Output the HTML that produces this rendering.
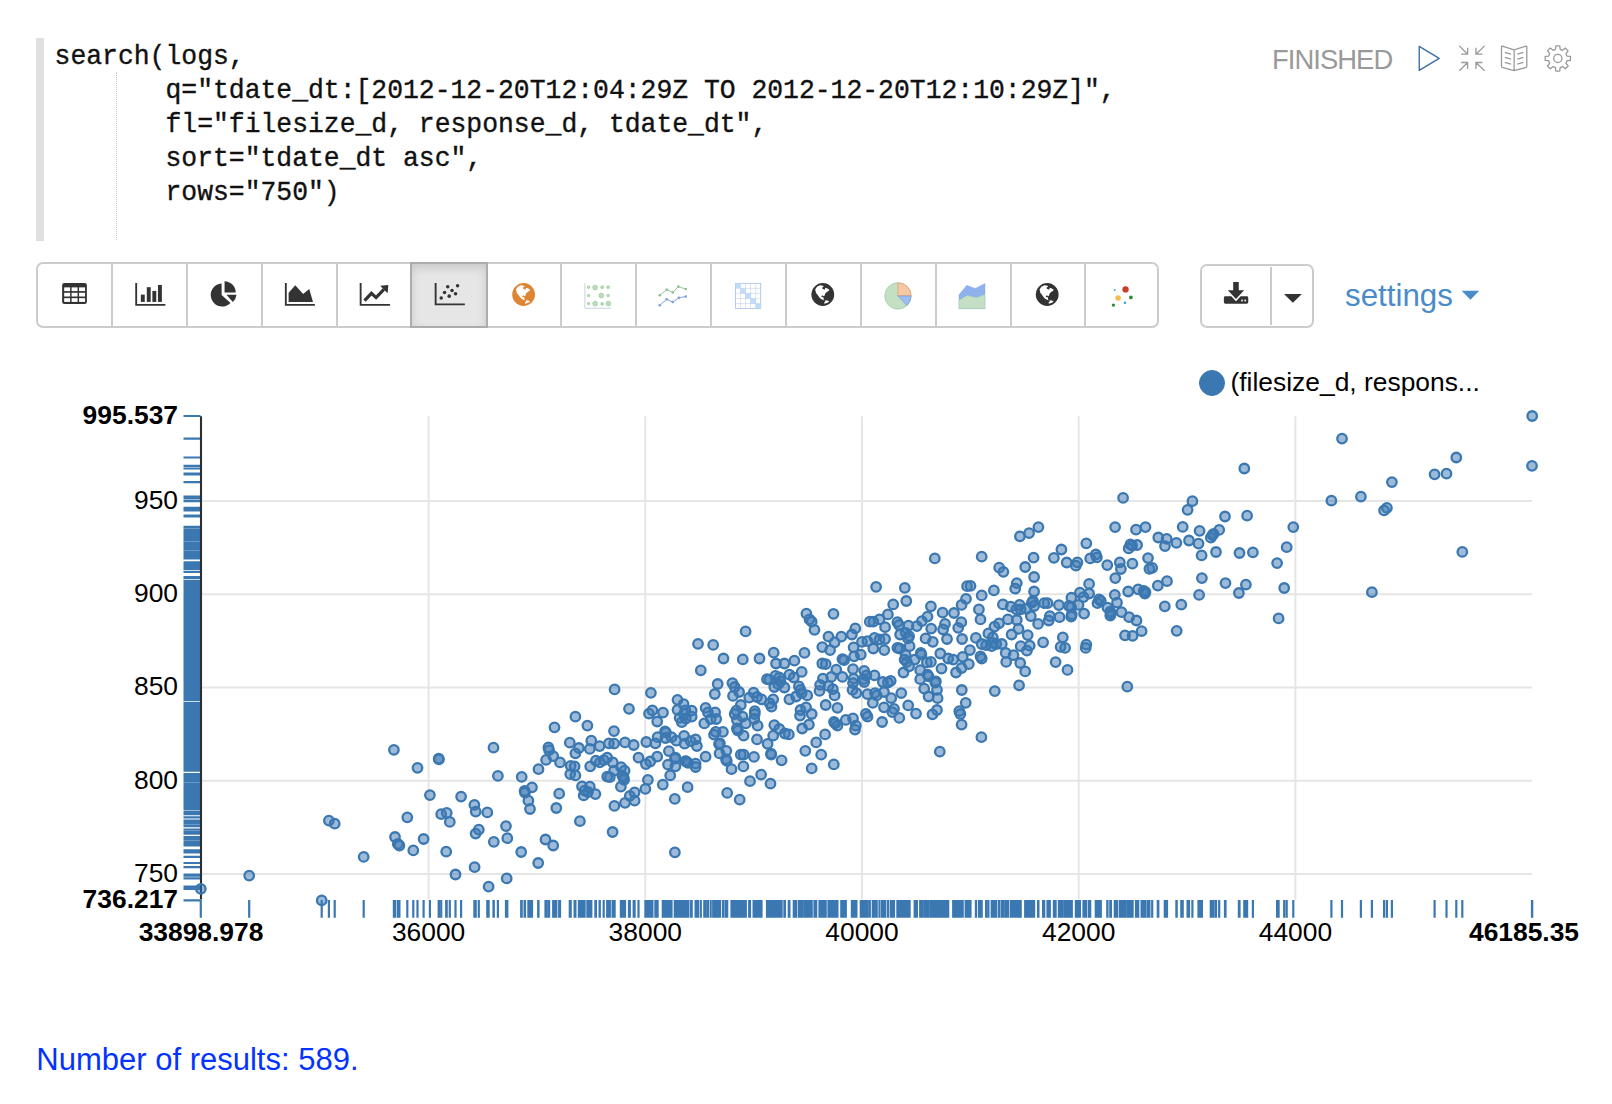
<!DOCTYPE html>
<html><head><meta charset="utf-8">
<style>
html,body{margin:0;padding:0;background:#fff;}
body{width:1612px;height:1104px;position:relative;overflow:hidden;font-family:"Liberation Sans",sans-serif;}
.abs{position:absolute;}
#gut{left:36px;top:38.4px;width:7.6px;height:203px;background:#e0e0e0;}
#indent{left:116.4px;top:72px;width:0;height:168px;border-left:1px dotted #c8c8c8;}
#code{left:54.6px;top:39.6px;margin:0;font-family:"Liberation Mono",monospace;font-size:26.4px;line-height:32.08px;color:#111;white-space:pre;transform:scaleY(1.06);transform-origin:0 0;-webkit-text-stroke:0.35px #111;}
#fin{left:1272px;top:45px;font-size:27.4px;line-height:30px;color:#999;letter-spacing:-0.95px;}
#tb{left:36.2px;top:262px;width:1123.2px;height:65.8px;box-sizing:border-box;border:2px solid #ccc;border-radius:7px;background:#fff;}
.sep{position:absolute;top:264px;width:2px;height:62px;background:#ccc;}
#act{left:410px;top:262px;width:77.5px;height:65.8px;box-sizing:border-box;background:#e6e6e6;border:2px solid #adadad;box-shadow:inset 0 4px 8px rgba(0,0,0,.13);}
#dl{left:1199.9px;top:263.7px;width:114.2px;height:64.4px;box-sizing:border-box;border:2px solid #ccc;border-radius:7px;background:#fff;}
#set{left:1345px;top:279px;font-size:31.3px;line-height:34px;color:#4a8bc9;}
#res{left:36.3px;top:1042.6px;font-size:31px;line-height:34px;color:#0433ff;}
svg text{font-family:"Liberation Sans",sans-serif;}
</style></head><body>
<div class="abs" id="gut"></div>
<div class="abs" id="indent"></div>
<pre class="abs" id="code">search(logs,
       q="tdate_dt:[2012-12-20T12:04:29Z TO 2012-12-20T12:10:29Z]",
       fl="filesize_d, response_d, tdate_dt",
       sort="tdate_dt asc",
       rows="750")</pre>
<div class="abs" id="fin">FINISHED</div>
<div class="abs" id="tb"></div>
<div class="abs" id="act"></div>
<div class="abs" id="dl"></div>
<div class="abs" id="set">settings</div>
<div class="abs" id="res">Number of results: 589.</div>

<div class="sep" style="left:111.0px"></div>
<div class="sep" style="left:185.9px"></div>
<div class="sep" style="left:260.7px"></div>
<div class="sep" style="left:335.6px"></div>
<div class="sep" style="left:560.3px"></div>
<div class="sep" style="left:635.1px"></div>
<div class="sep" style="left:710.0px"></div>
<div class="sep" style="left:784.9px"></div>
<div class="sep" style="left:859.8px"></div>
<div class="sep" style="left:934.7px"></div>
<div class="sep" style="left:1009.5px"></div>
<div class="sep" style="left:1084.4px"></div>
<div class="sep" style="left:1270px;top:266.6px;height:58.6px"></div>
<svg class="abs" style="left:0;top:0" width="1612" height="1104" viewBox="0 0 1612 1104">
<g transform="translate(37,263) scale(0.18610)"><rect x="135" y="108" width="133" height="112" rx="12" fill="#333"/><rect x="146" y="131" width="32" height="20" fill="#fff"/><rect x="186" y="131" width="32" height="20" fill="#fff"/><rect x="226" y="131" width="32" height="20" fill="#fff"/><rect x="146" y="160" width="32" height="20" fill="#fff"/><rect x="186" y="160" width="32" height="20" fill="#fff"/><rect x="226" y="160" width="32" height="20" fill="#fff"/><rect x="146" y="189" width="32" height="20" fill="#fff"/><rect x="186" y="189" width="32" height="20" fill="#fff"/><rect x="226" y="189" width="32" height="20" fill="#fff"/><path d="M533 108V225H690" stroke="#333" stroke-width="10" fill="none"/><rect x="558" y="170" width="21" height="39" fill="#333"/><rect x="590" y="130" width="21" height="79" fill="#333"/><rect x="620" y="150" width="21" height="59" fill="#333"/><rect x="650" y="118" width="21" height="91" fill="#333"/><path d="M992 110 A62 62 0 1 0 1040 215 L992 172 Z" fill="#333"/><path d="M1008 98 A62 62 0 0 1 1068 158 L1008 158 Z" fill="#333"/><path d="M1018 170 L1072 170 A62 62 0 0 1 1052 210 Z" fill="#333"/><path d="M1337 108V225H1493" stroke="#333" stroke-width="10" fill="none"/><path d="M1352 209V160L1388 120L1430 166L1463 140L1483 209Z" fill="#333"/></g>
<g transform="translate(337,263) scale(0.18610)"><path d="M127 108V225H285" stroke="#333" stroke-width="10" fill="none"/><path d="M148 202L185 163L210 186L252 142" stroke="#333" stroke-width="17" fill="none" stroke-linejoin="miter"/><path d="M232 122L276 118L272 162Z" fill="#333"/><path d="M530 108V222H687" stroke="#333" stroke-width="10" fill="none"/><circle cx="560" cy="188" r="9.5" fill="#333"/><circle cx="578" cy="158" r="9.5" fill="#333"/><circle cx="595" cy="128" r="9.5" fill="#333"/><circle cx="603" cy="178" r="9.5" fill="#333"/><circle cx="618" cy="148" r="9.5" fill="#333"/><circle cx="637" cy="165" r="9.5" fill="#333"/><circle cx="648" cy="122" r="9.5" fill="#333"/><path d="M1332 108V243H1472" stroke="#c3cfdc" stroke-width="5" fill="none"/><circle cx="1352" cy="130" r="7" fill="#bcdcbc" stroke="#8cc28c" stroke-width="3"/><circle cx="1387" cy="132" r="13" fill="#bcdcbc" stroke="#8cc28c" stroke-width="3"/><circle cx="1425" cy="130" r="8" fill="#bcdcbc" stroke="#8cc28c" stroke-width="3"/><circle cx="1457" cy="130" r="8" fill="#bcdcbc" stroke="#8cc28c" stroke-width="3"/><circle cx="1352" cy="175" r="7" fill="#bcdcbc" stroke="#8cc28c" stroke-width="3"/><circle cx="1420" cy="175" r="13" fill="#bcdcbc" stroke="#8cc28c" stroke-width="3"/><circle cx="1457" cy="175" r="7" fill="#bcdcbc" stroke="#8cc28c" stroke-width="3"/><circle cx="1352" cy="218" r="7" fill="#bcdcbc" stroke="#8cc28c" stroke-width="3"/><circle cx="1387" cy="218" r="13" fill="#bcdcbc" stroke="#8cc28c" stroke-width="3"/><circle cx="1425" cy="220" r="8" fill="#bcdcbc" stroke="#8cc28c" stroke-width="3"/><circle cx="1458" cy="218" r="13" fill="#bcdcbc" stroke="#8cc28c" stroke-width="3"/></g>
<g transform="translate(637,263) scale(0.18610)"><path d="M122 173 L160 143 L192 158 L222 127 L262 140" stroke="#8fc08f" stroke-width="5" fill="none"/><circle cx="122" cy="173" r="7" fill="#8fc08f"/><circle cx="160" cy="143" r="7" fill="#8fc08f"/><circle cx="192" cy="158" r="7" fill="#8fc08f"/><circle cx="222" cy="127" r="7" fill="#8fc08f"/><circle cx="262" cy="140" r="7" fill="#8fc08f"/><path d="M122 227 L160 195 L192 210 L225 187 L262 180" stroke="#7b9fdb" stroke-width="5" fill="none"/><circle cx="122" cy="227" r="7" fill="#7b9fdb"/><circle cx="160" cy="195" r="7" fill="#7b9fdb"/><circle cx="192" cy="210" r="7" fill="#7b9fdb"/><circle cx="225" cy="187" r="7" fill="#7b9fdb"/><circle cx="262" cy="180" r="7" fill="#7b9fdb"/><rect x="529" y="109" width="136" height="136" fill="#fff" stroke="#9db8e2" stroke-width="4"/><rect x="529.0" y="109.0" width="27.2" height="27.2" fill="#bcdcfa"/><rect x="556.2" y="136.2" width="27.2" height="27.2" fill="#bcdcfa"/><rect x="583.4" y="163.4" width="27.2" height="27.2" fill="#bcdcfa"/><rect x="610.6" y="190.6" width="27.2" height="27.2" fill="#bcdcfa"/><rect x="637.8" y="217.8" width="27.2" height="27.2" fill="#bcdcfa"/><path d="M556.2 109V245M529 136.2H665" stroke="#b4c9ea" stroke-width="2.5" fill="none"/><path d="M583.4 109V245M529 163.4H665" stroke="#b4c9ea" stroke-width="2.5" fill="none"/><path d="M610.6 109V245M529 190.6H665" stroke="#b4c9ea" stroke-width="2.5" fill="none"/><path d="M637.8 109V245M529 217.8H665" stroke="#b4c9ea" stroke-width="2.5" fill="none"/><circle cx="1402" cy="177" r="71" fill="#c4dfc4" stroke="#93c393" stroke-width="3"/><path d="M1402 177V106A71 71 0 0 1 1473 177Z" fill="#f6c9a4" stroke="#d98a55" stroke-width="3"/><path d="M1402 177H1473A71 71 0 0 1 1450 229Z" fill="#9dbdf0" stroke="#6f95d8" stroke-width="3"/></g>
<g transform="translate(937,263) scale(0.18610)"><path d="M118 245V170L160 120L205 137L258 110V245Z" fill="#8fb2ec" stroke="#7ea3e4" stroke-width="2"/><path d="M118 245V200L160 175L215 186L258 168V245Z" fill="#c4dfc4" stroke="#9bc99b" stroke-width="2"/><circle cx="1013" cy="142" r="17" fill="#c8402a"/><circle cx="973" cy="188" r="15" fill="#f2c04e"/><circle cx="1042" cy="185" r="10" fill="#2e8b3a"/><circle cx="948" cy="226" r="9" fill="#2e8b3a"/><circle cx="1010" cy="214" r="7" fill="#3aa8c8"/><circle cx="955" cy="145" r="5" fill="#3aa8c8"/></g>
<g transform="translate(523.6,294.5) scale(0.03738) translate(-635,-525)"><circle cx="635" cy="525" r="305" fill="#df8432"/><path d="M430 390 L480 320 L560 275 L640 290 L660 310 L615 345 L625 370 L690 395 L700 345 L760 365 L810 400 L790 430 L750 450 L700 500 L680 560 L660 570 L640 555 L600 560 L600 600 L640 590 L660 620 L650 655 L680 680 L640 670 L580 640 L540 600 L500 540 L450 480 L440 420Z" fill="#fff"/><path d="M700 680 L760 685 L810 710 L760 745 L680 775 L670 740 L700 710Z" fill="#fff"/></g>
<g transform="translate(822.8,294.5) scale(0.03738) translate(-635,-525)"><circle cx="635" cy="525" r="305" fill="#333"/><path d="M430 390 L480 320 L560 275 L640 290 L660 310 L615 345 L625 370 L690 395 L700 345 L760 365 L810 400 L790 430 L750 450 L700 500 L680 560 L660 570 L640 555 L600 560 L600 600 L640 590 L660 620 L650 655 L680 680 L640 670 L580 640 L540 600 L500 540 L450 480 L440 420Z" fill="#fff"/><path d="M700 680 L760 685 L810 710 L760 745 L680 775 L670 740 L700 710Z" fill="#fff"/></g>
<g transform="translate(1047.2,294.5) scale(0.03738) translate(-635,-525)"><circle cx="635" cy="525" r="305" fill="#333"/><path d="M430 390 L480 320 L560 275 L640 290 L660 310 L615 345 L625 370 L690 395 L700 345 L760 365 L810 400 L790 430 L750 450 L700 500 L680 560 L660 570 L640 555 L600 560 L600 600 L640 590 L660 620 L650 655 L680 680 L640 670 L580 640 L540 600 L500 540 L450 480 L440 420Z" fill="#fff"/><path d="M700 680 L760 685 L810 710 L760 745 L680 775 L670 740 L700 710Z" fill="#fff"/></g>
<g transform="translate(1190,255) scale(0.18610)"><rect x="232" y="145" width="30" height="50" fill="#333"/><path d="M203 190H291L247 236Z" fill="#333"/><path d="M190 222H222L247 248L272 222H305Q313 222 313 230V254Q313 262 305 262H190Q182 262 182 254V230Q182 222 190 222Z" fill="#333"/><rect x="275" y="240" width="9" height="9" fill="#fff"/><rect x="292" y="240" width="9" height="9" fill="#fff"/><path d="M505 210H601L553 256Z" fill="#333"/><path d="M1460 192H1554L1507 240Z" fill="#4a8bc9"/></g>
<g transform="translate(1400,30) scale(0.12407)"><path d="M155 132V326L316 229Z" stroke="#3a6ea5" stroke-width="11" fill="none" stroke-linejoin="round"/><path d="M478 128L545 195M493 195H545V143 M682 128L612 195M664 195H612V143 M478 328L545 262M493 262H545V314 M682 328L612 262M664 262H612V314" stroke="#9a9a9a" stroke-width="10.5" fill="none"/><path d="M920 160L824 130Q818 129 818 136V294Q818 300 824 302L920 328L1016 302Q1022 300 1022 294V136Q1022 129 1016 130ZM920 160V328 M845 180L895 195M845 220L895 235M845 260L895 275M945 195L995 180M945 235L995 220M945 275L995 260" stroke="#9a9a9a" stroke-width="10.5" fill="none" stroke-linejoin="round"/><path d="M1255.9 127.3 L1288.1 127.3 L1290.9 155.4 L1310.7 163.6 L1332.5 145.7 L1355.3 168.5 L1337.4 190.3 L1345.6 210.1 L1373.7 212.9 L1373.7 245.1 L1345.6 247.9 L1337.4 267.7 L1355.3 289.5 L1332.5 312.3 L1310.7 294.4 L1290.9 302.6 L1288.1 330.7 L1255.9 330.7 L1253.1 302.6 L1233.3 294.4 L1211.5 312.3 L1188.7 289.5 L1206.6 267.7 L1198.4 247.9 L1170.3 245.1 L1170.3 212.9 L1198.4 210.1 L1206.6 190.3 L1188.7 168.5 L1211.5 145.7 L1233.3 163.6 L1253.1 155.4Z" stroke="#9a9a9a" stroke-width="10.5" fill="none" stroke-linejoin="round"/><circle cx="1272" cy="229" r="33" stroke="#9a9a9a" stroke-width="10.5" fill="none"/></g>
<line x1="428.6" y1="416.2" x2="428.6" y2="899.6" stroke="#e5e5e5" stroke-width="2"/>
<line x1="645.3" y1="416.2" x2="645.3" y2="899.6" stroke="#e5e5e5" stroke-width="2"/>
<line x1="862.0" y1="416.2" x2="862.0" y2="899.6" stroke="#e5e5e5" stroke-width="2"/>
<line x1="1078.7" y1="416.2" x2="1078.7" y2="899.6" stroke="#e5e5e5" stroke-width="2"/>
<line x1="1295.4" y1="416.2" x2="1295.4" y2="899.6" stroke="#e5e5e5" stroke-width="2"/>
<line x1="201.0" y1="501.1" x2="1532.2" y2="501.1" stroke="#e5e5e5" stroke-width="2"/>
<line x1="201.0" y1="594.3" x2="1532.2" y2="594.3" stroke="#e5e5e5" stroke-width="2"/>
<line x1="201.0" y1="687.5" x2="1532.2" y2="687.5" stroke="#e5e5e5" stroke-width="2"/>
<line x1="201.0" y1="780.7" x2="1532.2" y2="780.7" stroke="#e5e5e5" stroke-width="2"/>
<line x1="201.0" y1="873.9" x2="1532.2" y2="873.9" stroke="#e5e5e5" stroke-width="2"/>
<path d="M328.9 900V917.7M183.5 820.6H200.5M334.7 900V917.7M183.5 823.7H200.5M363.7 900V917.7M183.5 856.9H200.5M393.9 900V917.7M183.5 749.8H200.5M395.0 900V917.7M183.5 837.0H200.5M397.8 900V917.7M183.5 843.9H200.5M399.4 900V917.7M183.5 845.5H200.5M407.3 900V917.7M183.5 817.3H200.5M413.3 900V917.7M183.5 850.4H200.5M417.5 900V917.7M183.5 767.8H200.5M423.6 900V917.7M183.5 839.0H200.5M429.9 900V917.7M183.5 795.1H200.5M438.7 900V917.7M183.5 758.6H200.5M438.9 900V917.7M183.5 759.4H200.5M441.2 900V917.7M183.5 814.2H200.5M446.7 900V917.7M183.5 812.9H200.5M449.8 900V917.7M183.5 821.9H200.5M446.2 900V917.7M183.5 851.7H200.5M455.5 900V917.7M183.5 874.5H200.5M461.1 900V917.7M183.5 796.6H200.5M474.4 900V917.7M183.5 804.8H200.5M475.7 900V917.7M183.5 811.6H200.5M478.8 900V917.7M183.5 829.7H200.5M475.6 900V917.7M183.5 833.6H200.5M474.6 900V917.7M183.5 867.2H200.5M487.3 900V917.7M183.5 812.4H200.5M488.6 900V917.7M183.5 886.6H200.5M493.5 900V917.7M183.5 747.7H200.5M497.9 900V917.7M183.5 775.9H200.5M493.8 900V917.7M183.5 841.8H200.5M506.0 900V917.7M183.5 826.1H200.5M507.3 900V917.7M183.5 838.2H200.5M506.7 900V917.7M183.5 878.4H200.5M521.7 900V917.7M183.5 776.9H200.5M521.2 900V917.7M183.5 852.0H200.5M524.6 900V917.7M183.5 790.9H200.5M525.0 900V917.7M183.5 792.5H200.5M532.0 900V917.7M183.5 787.3H200.5M528.4 900V917.7M183.5 800.7H200.5M530.0 900V917.7M183.5 809.0H200.5M538.5 900V917.7M183.5 769.2H200.5M538.2 900V917.7M183.5 863.0H200.5M545.5 900V917.7M183.5 839.5H200.5M553.2 900V917.7M183.5 845.5H200.5M546.1 900V917.7M183.5 759.9H200.5M548.4 900V917.7M183.5 747.4H200.5M549.1 900V917.7M183.5 750.2H200.5M553.2 900V917.7M183.5 756.2H200.5M554.5 900V917.7M183.5 727.3H200.5M556.3 900V917.7M183.5 808.0H200.5M559.2 900V917.7M183.5 793.7H200.5M560.0 900V917.7M183.5 762.4H200.5M321.7 900V917.7M183.5 900.3H200.5M575.4 900V917.7M183.5 716.7H200.5M587.4 900V917.7M183.5 725.6H200.5M614.0 900V917.7M183.5 731.1H200.5M657.2 900V917.7M183.5 721.5H200.5M569.8 900V917.7M183.5 742.7H200.5M591.3 900V917.7M183.5 740.7H200.5M578.9 900V917.7M183.5 748.0H200.5M575.4 900V917.7M183.5 753.3H200.5M589.8 900V917.7M183.5 748.9H200.5M599.6 900V917.7M183.5 746.1H200.5M608.9 900V917.7M183.5 743.3H200.5M614.1 900V917.7M183.5 743.7H200.5M625.0 900V917.7M183.5 742.4H200.5M633.7 900V917.7M183.5 745.0H200.5M646.3 900V917.7M183.5 742.0H200.5M655.4 900V917.7M183.5 743.3H200.5M657.6 900V917.7M183.5 737.2H200.5M665.0 900V917.7M183.5 731.5H200.5M665.4 900V917.7M183.5 738.0H200.5M671.5 900V917.7M183.5 737.2H200.5M676.3 900V917.7M183.5 740.7H200.5M684.1 900V917.7M183.5 735.9H200.5M684.6 900V917.7M183.5 743.7H200.5M690.7 900V917.7M183.5 741.1H200.5M570.7 900V917.7M183.5 765.9H200.5M574.6 900V917.7M183.5 766.3H200.5M570.2 900V917.7M183.5 774.1H200.5M575.4 900V917.7M183.5 775.4H200.5M590.2 900V917.7M183.5 766.3H200.5M595.9 900V917.7M183.5 760.7H200.5M599.8 900V917.7M183.5 762.4H200.5M603.7 900V917.7M183.5 760.2H200.5M607.2 900V917.7M183.5 757.6H200.5M612.8 900V917.7M183.5 762.4H200.5M614.1 900V917.7M183.5 770.7H200.5M607.2 900V917.7M183.5 776.7H200.5M609.8 900V917.7M183.5 777.2H200.5M621.1 900V917.7M183.5 767.2H200.5M624.6 900V917.7M183.5 770.7H200.5M622.4 900V917.7M183.5 775.9H200.5M624.1 900V917.7M183.5 779.8H200.5M620.9 900V917.7M183.5 786.7H200.5M638.5 900V917.7M183.5 757.6H200.5M645.9 900V917.7M183.5 764.1H200.5M650.2 900V917.7M183.5 761.5H200.5M657.2 900V917.7M183.5 756.7H200.5M668.9 900V917.7M183.5 751.1H200.5M675.4 900V917.7M183.5 757.6H200.5M668.0 900V917.7M183.5 764.6H200.5M675.4 900V917.7M183.5 766.3H200.5M685.4 900V917.7M183.5 761.1H200.5M688.0 900V917.7M183.5 762.8H200.5M670.2 900V917.7M183.5 775.4H200.5M647.9 900V917.7M183.5 779.8H200.5M645.4 900V917.7M183.5 788.9H200.5M662.8 900V917.7M183.5 784.6H200.5M687.6 900V917.7M183.5 787.2H200.5M674.8 900V917.7M183.5 798.9H200.5M665.9 900V917.7M183.5 732.4H200.5M675.0 900V917.7M183.5 758.5H200.5M686.3 900V917.7M183.5 761.5H200.5M623.7 900V917.7M183.5 777.6H200.5M582.0 900V917.7M183.5 786.3H200.5M589.8 900V917.7M183.5 786.7H200.5M584.6 900V917.7M183.5 790.7H200.5M588.0 900V917.7M183.5 792.0H200.5M583.7 900V917.7M183.5 795.4H200.5M595.4 900V917.7M183.5 794.1H200.5M614.4 900V917.7M183.5 805.9H200.5M625.0 900V917.7M183.5 802.8H200.5M629.8 900V917.7M183.5 795.9H200.5M634.6 900V917.7M183.5 792.4H200.5M634.6 900V917.7M183.5 800.7H200.5M727.2 900V917.7M183.5 792.9H200.5M739.7 900V917.7M183.5 799.7H200.5M750.0 900V917.7M183.5 781.2H200.5M761.1 900V917.7M183.5 774.6H200.5M770.5 900V917.7M183.5 783.7H200.5M811.7 900V917.7M183.5 768.4H200.5M833.8 900V917.7M183.5 764.4H200.5M821.2 900V917.7M183.5 754.7H200.5M805.3 900V917.7M183.5 750.8H200.5M816.2 900V917.7M183.5 742.4H200.5M825.1 900V917.7M183.5 734.4H200.5M781.6 900V917.7M183.5 760.3H200.5M771.0 900V917.7M183.5 753.6H200.5M771.2 900V917.7M183.5 754.5H200.5M767.6 900V917.7M183.5 743.8H200.5M757.0 900V917.7M183.5 739.4H200.5M754.0 900V917.7M183.5 756.9H200.5M743.6 900V917.7M183.5 754.7H200.5M740.8 900V917.7M183.5 754.7H200.5M743.4 900V917.7M183.5 766.4H200.5M731.5 900V917.7M183.5 769.2H200.5M726.0 900V917.7M183.5 759.2H200.5M726.8 900V917.7M183.5 760.9H200.5M726.3 900V917.7M183.5 750.8H200.5M719.6 900V917.7M183.5 753.4H200.5M719.9 900V917.7M183.5 743.3H200.5M719.0 900V917.7M183.5 744.1H200.5M705.6 900V917.7M183.5 756.7H200.5M695.6 900V917.7M183.5 763.6H200.5M695.6 900V917.7M183.5 767.0H200.5M696.9 900V917.7M183.5 746.0H200.5M695.6 900V917.7M183.5 739.3H200.5M705.6 900V917.7M183.5 707.8H200.5M707.9 900V917.7M183.5 712.3H200.5M715.1 900V917.7M183.5 712.3H200.5M710.7 900V917.7M183.5 719.0H200.5M716.2 900V917.7M183.5 719.0H200.5M704.3 900V917.7M183.5 723.4H200.5M691.7 900V917.7M183.5 710.6H200.5M691.7 900V917.7M183.5 716.7H200.5M715.7 900V917.7M183.5 731.8H200.5M714.0 900V917.7M183.5 734.6H200.5M722.9 900V917.7M183.5 731.8H200.5M740.8 900V917.7M183.5 705.0H200.5M736.3 900V917.7M183.5 710.6H200.5M734.7 900V917.7M183.5 714.0H200.5M742.5 900V917.7M183.5 716.7H200.5M736.9 900V917.7M183.5 720.1H200.5M745.8 900V917.7M183.5 723.4H200.5M736.9 900V917.7M183.5 728.5H200.5M738.0 900V917.7M183.5 730.7H200.5M743.6 900V917.7M183.5 735.7H200.5M754.8 900V917.7M183.5 711.2H200.5M754.8 900V917.7M183.5 714.0H200.5M754.2 900V917.7M183.5 719.0H200.5M757.6 900V917.7M183.5 725.7H200.5M771.5 900V917.7M183.5 706.7H200.5M769.8 900V917.7M183.5 703.3H200.5M774.3 900V917.7M183.5 725.1H200.5M779.3 900V917.7M183.5 729.0H200.5M773.2 900V917.7M183.5 735.7H200.5M784.9 900V917.7M183.5 733.5H200.5M788.8 900V917.7M183.5 734.4H200.5M800.5 900V917.7M183.5 710.0H200.5M806.1 900V917.7M183.5 707.3H200.5M800.0 900V917.7M183.5 715.6H200.5M811.7 900V917.7M183.5 714.0H200.5M808.9 900V917.7M183.5 724.6H200.5M802.2 900V917.7M183.5 728.5H200.5M825.7 900V917.7M183.5 705.0H200.5M837.4 900V917.7M183.5 707.8H200.5M834.0 900V917.7M183.5 721.8H200.5M835.2 900V917.7M183.5 723.4H200.5M837.4 900V917.7M183.5 725.7H200.5M845.8 900V917.7M183.5 719.9H200.5M853.0 900V917.7M183.5 718.4H200.5M855.8 900V917.7M183.5 725.7H200.5M855.0 900V917.7M183.5 729.6H200.5M865.9 900V917.7M183.5 714.0H200.5M867.5 900V917.7M183.5 716.7H200.5M200.8 900V917.7M183.5 888.8H200.5M249.2 900V917.7M183.5 875.6H200.5M1532.2 900V917.7M183.5 416.0H200.5M1532.0 900V917.7M183.5 465.8H200.5M939.8 900V917.7M183.5 751.7H200.5M981.4 900V917.7M183.5 737.2H200.5M961.6 900V917.7M183.5 724.6H200.5M959.3 900V917.7M183.5 711.2H200.5M960.4 900V917.7M183.5 714.0H200.5M965.7 900V917.7M183.5 702.8H200.5M937.0 900V917.7M183.5 710.0H200.5M932.5 900V917.7M183.5 714.3H200.5M916.0 900V917.7M183.5 713.6H200.5M908.2 900V917.7M183.5 705.4H200.5M899.3 900V917.7M183.5 717.9H200.5M882.1 900V917.7M183.5 722.0H200.5M884.0 900V917.7M183.5 707.3H200.5M894.0 900V917.7M183.5 708.9H200.5M892.3 900V917.7M183.5 712.1H200.5M872.8 900V917.7M183.5 702.8H200.5M614.6 900V917.7M183.5 689.4H200.5M650.9 900V917.7M183.5 692.8H200.5M629.0 900V917.7M183.5 708.8H200.5M677.5 900V917.7M183.5 699.8H200.5M683.6 900V917.7M183.5 704.2H200.5M652.4 900V917.7M183.5 710.4H200.5M649.0 900V917.7M183.5 713.7H200.5M663.0 900V917.7M183.5 712.6H200.5M677.5 900V917.7M183.5 709.8H200.5M685.3 900V917.7M183.5 710.4H200.5M679.6 900V917.7M183.5 717.8H200.5M681.8 900V917.7M183.5 722.2H200.5M685.8 900V917.7M183.5 718.5H200.5M684.0 900V917.7M183.5 713.8H200.5M698.0 900V917.7M183.5 643.8H200.5M713.2 900V917.7M183.5 644.9H200.5M745.6 900V917.7M183.5 631.4H200.5M723.5 900V917.7M183.5 658.5H200.5M742.8 900V917.7M183.5 659.4H200.5M759.5 900V917.7M183.5 658.5H200.5M700.8 900V917.7M183.5 670.3H200.5M773.7 900V917.7M183.5 652.7H200.5M804.5 900V917.7M183.5 652.9H200.5M806.4 900V917.7M183.5 613.6H200.5M809.5 900V917.7M183.5 619.4H200.5M811.7 900V917.7M183.5 621.7H200.5M814.5 900V917.7M183.5 629.8H200.5M833.5 900V917.7M183.5 613.8H200.5M869.8 900V917.7M183.5 621.7H200.5M776.0 900V917.7M183.5 663.5H200.5M784.4 900V917.7M183.5 663.5H200.5M794.4 900V917.7M183.5 660.7H200.5M801.7 900V917.7M183.5 671.9H200.5M789.4 900V917.7M183.5 674.7H200.5M793.8 900V917.7M183.5 677.5H200.5M828.5 900V917.7M183.5 636.7H200.5M834.6 900V917.7M183.5 642.3H200.5M841.3 900V917.7M183.5 636.7H200.5M822.3 900V917.7M183.5 647.1H200.5M830.1 900V917.7M183.5 650.1H200.5M851.9 900V917.7M183.5 634.5H200.5M855.3 900V917.7M183.5 628.4H200.5M853.6 900V917.7M183.5 647.3H200.5M862.0 900V917.7M183.5 641.8H200.5M867.5 900V917.7M183.5 641.2H200.5M860.8 900V917.7M183.5 654.6H200.5M854.1 900V917.7M183.5 656.3H200.5M842.4 900V917.7M183.5 659.1H200.5M844.1 900V917.7M183.5 660.2H200.5M822.3 900V917.7M183.5 663.5H200.5M825.7 900V917.7M183.5 664.1H200.5M836.3 900V917.7M183.5 669.7H200.5M853.0 900V917.7M183.5 669.1H200.5M842.4 900V917.7M183.5 676.9H200.5M831.3 900V917.7M183.5 676.9H200.5M822.9 900V917.7M183.5 678.6H200.5M717.7 900V917.7M183.5 684.0H200.5M714.8 900V917.7M183.5 694.0H200.5M732.4 900V917.7M183.5 683.1H200.5M734.7 900V917.7M183.5 687.0H200.5M739.1 900V917.7M183.5 692.0H200.5M733.0 900V917.7M183.5 695.9H200.5M753.6 900V917.7M183.5 692.6H200.5M749.2 900V917.7M183.5 697.6H200.5M757.0 900V917.7M183.5 697.0H200.5M761.5 900V917.7M183.5 699.3H200.5M773.2 900V917.7M183.5 699.3H200.5M767.0 900V917.7M183.5 679.2H200.5M769.3 900V917.7M183.5 679.7H200.5M775.4 900V917.7M183.5 675.8H200.5M779.3 900V917.7M183.5 677.5H200.5M780.4 900V917.7M183.5 681.4H200.5M778.2 900V917.7M183.5 684.2H200.5M774.3 900V917.7M183.5 687.0H200.5M784.4 900V917.7M183.5 687.5H200.5M798.9 900V917.7M183.5 686.4H200.5M800.5 900V917.7M183.5 689.8H200.5M801.7 900V917.7M183.5 693.1H200.5M807.2 900V917.7M183.5 695.4H200.5M796.1 900V917.7M183.5 696.5H200.5M789.4 900V917.7M183.5 699.3H200.5M820.1 900V917.7M183.5 684.8H200.5M819.5 900V917.7M183.5 690.9H200.5M832.9 900V917.7M183.5 689.2H200.5M834.6 900V917.7M183.5 695.4H200.5M828.5 900V917.7M183.5 685.9H200.5M853.6 900V917.7M183.5 678.6H200.5M853.0 900V917.7M183.5 683.1H200.5M852.5 900V917.7M183.5 689.8H200.5M856.4 900V917.7M183.5 693.1H200.5M864.2 900V917.7M183.5 670.8H200.5M866.4 900V917.7M183.5 675.3H200.5M863.6 900V917.7M183.5 679.2H200.5M864.2 900V917.7M183.5 682.0H200.5M867.5 900V917.7M183.5 694.2H200.5M876.1 900V917.7M183.5 586.8H200.5M904.8 900V917.7M183.5 587.8H200.5M906.3 900V917.7M183.5 601.0H200.5M893.2 900V917.7M183.5 604.4H200.5M967.1 900V917.7M183.5 586.2H200.5M970.5 900V917.7M183.5 585.9H200.5M966.0 900V917.7M183.5 598.8H200.5M961.6 900V917.7M183.5 604.9H200.5M981.7 900V917.7M183.5 595.4H200.5M993.9 900V917.7M183.5 590.4H200.5M978.9 900V917.7M183.5 609.4H200.5M980.5 900V917.7M183.5 619.4H200.5M1016.8 900V917.7M183.5 583.1H200.5M1015.2 900V917.7M183.5 588.7H200.5M1034.1 900V917.7M183.5 577.0H200.5M1034.1 900V917.7M183.5 591.5H200.5M1002.9 900V917.7M183.5 604.4H200.5M1010.7 900V917.7M183.5 606.6H200.5M1019.6 900V917.7M183.5 604.9H200.5M1016.3 900V917.7M183.5 609.4H200.5M1020.7 900V917.7M183.5 609.4H200.5M1026.3 900V917.7M183.5 608.8H200.5M1031.9 900V917.7M183.5 602.7H200.5M1033.0 900V917.7M183.5 601.0H200.5M1034.1 900V917.7M183.5 606.0H200.5M1044.2 900V917.7M183.5 603.2H200.5M1047.5 900V917.7M183.5 603.2H200.5M1030.8 900V917.7M183.5 616.1H200.5M1038.1 900V917.7M183.5 623.9H200.5M1049.8 900V917.7M183.5 616.1H200.5M1048.7 900V917.7M183.5 620.5H200.5M1016.8 900V917.7M183.5 620.0H200.5M1007.9 900V917.7M183.5 619.4H200.5M930.9 900V917.7M183.5 606.3H200.5M942.6 900V917.7M183.5 612.7H200.5M954.0 900V917.7M183.5 613.0H200.5M927.5 900V917.7M183.5 616.6H200.5M921.9 900V917.7M183.5 621.1H200.5M916.9 900V917.7M183.5 626.1H200.5M887.9 900V917.7M183.5 614.4H200.5M879.5 900V917.7M183.5 619.4H200.5M873.3 900V917.7M183.5 621.7H200.5M885.1 900V917.7M183.5 627.2H200.5M897.4 900V917.7M183.5 622.2H200.5M899.0 900V917.7M183.5 625.0H200.5M908.5 900V917.7M183.5 625.6H200.5M931.2 900V917.7M183.5 628.6H200.5M945.0 900V917.7M183.5 623.9H200.5M943.1 900V917.7M183.5 629.5H200.5M961.3 900V917.7M183.5 622.2H200.5M958.2 900V917.7M183.5 627.8H200.5M947.0 900V917.7M183.5 639.0H200.5M962.1 900V917.7M183.5 639.0H200.5M999.0 900V917.7M183.5 623.3H200.5M994.5 900V917.7M183.5 626.7H200.5M988.4 900V917.7M183.5 633.4H200.5M992.8 900V917.7M183.5 637.3H200.5M975.9 900V917.7M183.5 637.9H200.5M1018.5 900V917.7M183.5 628.9H200.5M1011.6 900V917.7M183.5 634.5H200.5M1027.7 900V917.7M183.5 635.1H200.5M1043.1 900V917.7M183.5 642.3H200.5M874.5 900V917.7M183.5 637.9H200.5M879.5 900V917.7M183.5 639.5H200.5M885.1 900V917.7M183.5 639.0H200.5M900.1 900V917.7M183.5 634.5H200.5M905.7 900V917.7M183.5 632.8H200.5M908.0 900V917.7M183.5 638.4H200.5M909.1 900V917.7M183.5 636.2H200.5M925.6 900V917.7M183.5 638.4H200.5M932.8 900V917.7M183.5 641.8H200.5M873.3 900V917.7M183.5 648.5H200.5M884.3 900V917.7M183.5 650.1H200.5M897.4 900V917.7M183.5 647.9H200.5M899.6 900V917.7M183.5 648.5H200.5M909.6 900V917.7M183.5 646.2H200.5M920.8 900V917.7M183.5 652.9H200.5M921.4 900V917.7M183.5 654.6H200.5M905.7 900V917.7M183.5 655.2H200.5M904.6 900V917.7M183.5 659.6H200.5M906.8 900V917.7M183.5 661.9H200.5M909.1 900V917.7M183.5 666.3H200.5M914.7 900V917.7M183.5 659.6H200.5M903.5 900V917.7M183.5 672.5H200.5M940.3 900V917.7M183.5 653.5H200.5M948.2 900V917.7M183.5 658.5H200.5M953.2 900V917.7M183.5 659.6H200.5M962.7 900V917.7M183.5 656.8H200.5M969.9 900V917.7M183.5 650.1H200.5M968.8 900V917.7M183.5 664.1H200.5M961.6 900V917.7M183.5 668.0H200.5M956.0 900V917.7M183.5 672.5H200.5M941.5 900V917.7M183.5 668.6H200.5M926.9 900V917.7M183.5 662.4H200.5M930.9 900V917.7M183.5 661.9H200.5M981.7 900V917.7M183.5 644.0H200.5M986.1 900V917.7M183.5 645.1H200.5M991.7 900V917.7M183.5 646.2H200.5M992.8 900V917.7M183.5 642.9H200.5M996.2 900V917.7M183.5 644.0H200.5M1001.8 900V917.7M183.5 644.0H200.5M980.5 900V917.7M183.5 656.3H200.5M981.7 900V917.7M183.5 658.5H200.5M1005.7 900V917.7M183.5 652.9H200.5M1013.5 900V917.7M183.5 655.2H200.5M1006.2 900V917.7M183.5 661.9H200.5M1020.2 900V917.7M183.5 663.0H200.5M1025.2 900V917.7M183.5 671.4H200.5M1020.7 900V917.7M183.5 646.2H200.5M1029.7 900V917.7M183.5 645.7H200.5M1026.9 900V917.7M183.5 650.7H200.5M874.5 900V917.7M183.5 675.3H200.5M882.8 900V917.7M183.5 682.0H200.5M887.9 900V917.7M183.5 682.5H200.5M890.7 900V917.7M183.5 680.8H200.5M920.2 900V917.7M183.5 670.2H200.5M927.5 900V917.7M183.5 674.7H200.5M920.2 900V917.7M183.5 679.2H200.5M928.6 900V917.7M183.5 676.4H200.5M935.9 900V917.7M183.5 681.4H200.5M935.3 900V917.7M183.5 682.5H200.5M924.2 900V917.7M183.5 688.7H200.5M937.0 900V917.7M183.5 689.8H200.5M928.6 900V917.7M183.5 696.5H200.5M937.6 900V917.7M183.5 698.2H200.5M901.3 900V917.7M183.5 693.1H200.5M884.0 900V917.7M183.5 692.0H200.5M875.0 900V917.7M183.5 693.1H200.5M876.7 900V917.7M183.5 695.4H200.5M891.2 900V917.7M183.5 698.2H200.5M961.8 900V917.7M183.5 690.0H200.5M994.8 900V917.7M183.5 691.1H200.5M1019.1 900V917.7M183.5 685.3H200.5M1127.3 900V917.7M183.5 686.7H200.5M1067.5 900V917.7M183.5 669.9H200.5M1055.6 900V917.7M183.5 662.1H200.5M1062.8 900V917.7M183.5 637.3H200.5M1060.6 900V917.7M183.5 646.8H200.5M1065.1 900V917.7M183.5 647.9H200.5M1086.3 900V917.7M183.5 644.6H200.5M1085.7 900V917.7M183.5 647.9H200.5M1125.0 900V917.7M183.5 635.3H200.5M1132.6 900V917.7M183.5 635.8H200.5M1141.6 900V917.7M183.5 631.2H200.5M1176.7 900V917.7M183.5 630.8H200.5M1164.8 900V917.7M183.5 606.3H200.5M1181.3 900V917.7M183.5 604.7H200.5M1199.1 900V917.7M183.5 594.9H200.5M1225.5 900V917.7M183.5 583.1H200.5M1201.9 900V917.7M183.5 578.1H200.5M1167.0 900V917.7M183.5 581.2H200.5M1157.8 900V917.7M183.5 585.7H200.5M1115.3 900V917.7M183.5 578.1H200.5M1089.1 900V917.7M183.5 583.9H200.5M1089.1 900V917.7M183.5 593.5H200.5M1079.9 900V917.7M183.5 592.6H200.5M1083.5 900V917.7M183.5 597.1H200.5M1071.4 900V917.7M183.5 597.7H200.5M1058.9 900V917.7M183.5 605.1H200.5M1069.0 900V917.7M183.5 606.0H200.5M1071.2 900V917.7M183.5 607.1H200.5M1078.5 900V917.7M183.5 604.9H200.5M1084.1 900V917.7M183.5 613.6H200.5M1071.8 900V917.7M183.5 614.4H200.5M1071.2 900V917.7M183.5 616.6H200.5M1059.5 900V917.7M183.5 617.2H200.5M1097.5 900V917.7M183.5 603.2H200.5M1099.1 900V917.7M183.5 599.3H200.5M1100.8 900V917.7M183.5 601.0H200.5M1114.8 900V917.7M183.5 594.9H200.5M1117.0 900V917.7M183.5 602.7H200.5M1107.5 900V917.7M183.5 607.7H200.5M1110.3 900V917.7M183.5 611.6H200.5M1110.9 900V917.7M183.5 613.3H200.5M1110.3 900V917.7M183.5 615.5H200.5M1121.5 900V917.7M183.5 612.2H200.5M1129.1 900V917.7M183.5 617.2H200.5M1136.5 900V917.7M183.5 620.5H200.5M1128.2 900V917.7M183.5 591.5H200.5M1138.2 900V917.7M183.5 589.3H200.5M1143.8 900V917.7M183.5 591.0H200.5M1145.5 900V917.7M183.5 592.1H200.5M1144.9 900V917.7M183.5 593.7H200.5M934.8 900V917.7M183.5 558.4H200.5M981.7 900V917.7M183.5 556.7H200.5M999.2 900V917.7M183.5 567.7H200.5M1003.4 900V917.7M183.5 571.8H200.5M1019.9 900V917.7M183.5 536.3H200.5M1029.1 900V917.7M183.5 533.1H200.5M1038.4 900V917.7M183.5 527.1H200.5M1033.6 900V917.7M183.5 557.6H200.5M1025.2 900V917.7M183.5 567.0H200.5M1123.1 900V917.7M183.5 497.9H200.5M1192.4 900V917.7M183.5 501.2H200.5M1187.6 900V917.7M183.5 509.8H200.5M1225.0 900V917.7M183.5 516.5H200.5M1115.1 900V917.7M183.5 527.1H200.5M1136.0 900V917.7M183.5 529.7H200.5M1145.5 900V917.7M183.5 527.1H200.5M1182.7 900V917.7M183.5 526.9H200.5M1199.6 900V917.7M183.5 530.8H200.5M1219.2 900V917.7M183.5 529.9H200.5M1213.6 900V917.7M183.5 533.8H200.5M1210.8 900V917.7M183.5 537.7H200.5M1212.5 900V917.7M183.5 535.0H200.5M1158.3 900V917.7M183.5 537.5H200.5M1166.7 900V917.7M183.5 538.9H200.5M1165.0 900V917.7M183.5 546.1H200.5M1176.4 900V917.7M183.5 542.8H200.5M1189.0 900V917.7M183.5 540.5H200.5M1198.5 900V917.7M183.5 543.6H200.5M1201.6 900V917.7M183.5 555.4H200.5M1216.0 900V917.7M183.5 552.0H200.5M1086.3 900V917.7M183.5 543.3H200.5M1061.4 900V917.7M183.5 549.5H200.5M1053.9 900V917.7M183.5 557.8H200.5M1066.7 900V917.7M183.5 562.5H200.5M1077.4 900V917.7M183.5 562.3H200.5M1075.9 900V917.7M183.5 565.7H200.5M1090.2 900V917.7M183.5 558.4H200.5M1095.8 900V917.7M183.5 554.5H200.5M1096.9 900V917.7M183.5 557.3H200.5M1107.3 900V917.7M183.5 565.1H200.5M1119.8 900V917.7M183.5 562.3H200.5M1120.9 900V917.7M183.5 569.0H200.5M1132.4 900V917.7M183.5 563.7H200.5M1130.4 900V917.7M183.5 544.4H200.5M1132.1 900V917.7M183.5 545.6H200.5M1137.1 900V917.7M183.5 545.0H200.5M1128.7 900V917.7M183.5 548.4H200.5M1148.0 900V917.7M183.5 558.1H200.5M1149.4 900V917.7M183.5 568.8H200.5M1152.2 900V917.7M183.5 567.9H200.5M1244.3 900V917.7M183.5 468.5H200.5M1247.1 900V917.7M183.5 515.7H200.5M1293.3 900V917.7M183.5 527.1H200.5M1286.7 900V917.7M183.5 547.2H200.5M1277.1 900V917.7M183.5 563.1H200.5M1252.9 900V917.7M183.5 552.3H200.5M1239.5 900V917.7M183.5 553.0H200.5M1331.4 900V917.7M183.5 500.7H200.5M1360.9 900V917.7M183.5 496.7H200.5M1391.9 900V917.7M183.5 482.1H200.5M1386.9 900V917.7M183.5 507.9H200.5M1384.1 900V917.7M183.5 510.4H200.5M1245.9 900V917.7M183.5 584.7H200.5M1238.9 900V917.7M183.5 593.0H200.5M1284.2 900V917.7M183.5 588.0H200.5M1278.6 900V917.7M183.5 618.4H200.5M1371.9 900V917.7M183.5 592.2H200.5M1462.3 900V917.7M183.5 551.9H200.5M1342.0 900V917.7M183.5 438.6H200.5M1434.6 900V917.7M183.5 474.3H200.5M1446.5 900V917.7M183.5 473.7H200.5M1456.3 900V917.7M183.5 457.5H200.5M579.9 900V917.7M183.5 821.2H200.5M612.6 900V917.7M183.5 832.0H200.5M674.9 900V917.7M183.5 852.3H200.5" stroke="#3b78b1" stroke-width="2.2" fill="none"/>
<line x1="201" y1="416.2" x2="201" y2="899.6" stroke="#2e2e2e" stroke-width="2.1"/>
<g fill="#3b78b1" fill-opacity="0.5" stroke="#3b78b1" stroke-width="2.3">
<circle cx="328.9" cy="820.6" r="4.75"/>
<circle cx="334.7" cy="823.7" r="4.75"/>
<circle cx="363.7" cy="856.9" r="4.75"/>
<circle cx="393.9" cy="749.8" r="4.75"/>
<circle cx="395.0" cy="837.0" r="4.75"/>
<circle cx="397.8" cy="843.9" r="4.75"/>
<circle cx="399.4" cy="845.5" r="4.75"/>
<circle cx="407.3" cy="817.3" r="4.75"/>
<circle cx="413.3" cy="850.4" r="4.75"/>
<circle cx="417.5" cy="767.8" r="4.75"/>
<circle cx="423.6" cy="839.0" r="4.75"/>
<circle cx="429.9" cy="795.1" r="4.75"/>
<circle cx="438.7" cy="758.6" r="4.75"/>
<circle cx="438.9" cy="759.4" r="4.75"/>
<circle cx="441.2" cy="814.2" r="4.75"/>
<circle cx="446.7" cy="812.9" r="4.75"/>
<circle cx="449.8" cy="821.9" r="4.75"/>
<circle cx="446.2" cy="851.7" r="4.75"/>
<circle cx="455.5" cy="874.5" r="4.75"/>
<circle cx="461.1" cy="796.6" r="4.75"/>
<circle cx="474.4" cy="804.8" r="4.75"/>
<circle cx="475.7" cy="811.6" r="4.75"/>
<circle cx="478.8" cy="829.7" r="4.75"/>
<circle cx="475.6" cy="833.6" r="4.75"/>
<circle cx="474.6" cy="867.2" r="4.75"/>
<circle cx="487.3" cy="812.4" r="4.75"/>
<circle cx="488.6" cy="886.6" r="4.75"/>
<circle cx="493.5" cy="747.7" r="4.75"/>
<circle cx="497.9" cy="775.9" r="4.75"/>
<circle cx="493.8" cy="841.8" r="4.75"/>
<circle cx="506.0" cy="826.1" r="4.75"/>
<circle cx="507.3" cy="838.2" r="4.75"/>
<circle cx="506.7" cy="878.4" r="4.75"/>
<circle cx="521.7" cy="776.9" r="4.75"/>
<circle cx="521.2" cy="852.0" r="4.75"/>
<circle cx="524.6" cy="790.9" r="4.75"/>
<circle cx="525.0" cy="792.5" r="4.75"/>
<circle cx="532.0" cy="787.3" r="4.75"/>
<circle cx="528.4" cy="800.7" r="4.75"/>
<circle cx="530.0" cy="809.0" r="4.75"/>
<circle cx="538.5" cy="769.2" r="4.75"/>
<circle cx="538.2" cy="863.0" r="4.75"/>
<circle cx="545.5" cy="839.5" r="4.75"/>
<circle cx="553.2" cy="845.5" r="4.75"/>
<circle cx="546.1" cy="759.9" r="4.75"/>
<circle cx="548.4" cy="747.4" r="4.75"/>
<circle cx="549.1" cy="750.2" r="4.75"/>
<circle cx="553.2" cy="756.2" r="4.75"/>
<circle cx="554.5" cy="727.3" r="4.75"/>
<circle cx="556.3" cy="808.0" r="4.75"/>
<circle cx="559.2" cy="793.7" r="4.75"/>
<circle cx="560.0" cy="762.4" r="4.75"/>
<circle cx="321.7" cy="900.3" r="4.75"/>
<circle cx="575.4" cy="716.7" r="4.75"/>
<circle cx="587.4" cy="725.6" r="4.75"/>
<circle cx="614.0" cy="731.1" r="4.75"/>
<circle cx="657.2" cy="721.5" r="4.75"/>
<circle cx="569.8" cy="742.7" r="4.75"/>
<circle cx="591.3" cy="740.7" r="4.75"/>
<circle cx="578.9" cy="748.0" r="4.75"/>
<circle cx="575.4" cy="753.3" r="4.75"/>
<circle cx="589.8" cy="748.9" r="4.75"/>
<circle cx="599.6" cy="746.1" r="4.75"/>
<circle cx="608.9" cy="743.3" r="4.75"/>
<circle cx="614.1" cy="743.7" r="4.75"/>
<circle cx="625.0" cy="742.4" r="4.75"/>
<circle cx="633.7" cy="745.0" r="4.75"/>
<circle cx="646.3" cy="742.0" r="4.75"/>
<circle cx="655.4" cy="743.3" r="4.75"/>
<circle cx="657.6" cy="737.2" r="4.75"/>
<circle cx="665.0" cy="731.5" r="4.75"/>
<circle cx="665.4" cy="738.0" r="4.75"/>
<circle cx="671.5" cy="737.2" r="4.75"/>
<circle cx="676.3" cy="740.7" r="4.75"/>
<circle cx="684.1" cy="735.9" r="4.75"/>
<circle cx="684.6" cy="743.7" r="4.75"/>
<circle cx="690.7" cy="741.1" r="4.75"/>
<circle cx="570.7" cy="765.9" r="4.75"/>
<circle cx="574.6" cy="766.3" r="4.75"/>
<circle cx="570.2" cy="774.1" r="4.75"/>
<circle cx="575.4" cy="775.4" r="4.75"/>
<circle cx="590.2" cy="766.3" r="4.75"/>
<circle cx="595.9" cy="760.7" r="4.75"/>
<circle cx="599.8" cy="762.4" r="4.75"/>
<circle cx="603.7" cy="760.2" r="4.75"/>
<circle cx="607.2" cy="757.6" r="4.75"/>
<circle cx="612.8" cy="762.4" r="4.75"/>
<circle cx="614.1" cy="770.7" r="4.75"/>
<circle cx="607.2" cy="776.7" r="4.75"/>
<circle cx="609.8" cy="777.2" r="4.75"/>
<circle cx="621.1" cy="767.2" r="4.75"/>
<circle cx="624.6" cy="770.7" r="4.75"/>
<circle cx="622.4" cy="775.9" r="4.75"/>
<circle cx="624.1" cy="779.8" r="4.75"/>
<circle cx="620.9" cy="786.7" r="4.75"/>
<circle cx="638.5" cy="757.6" r="4.75"/>
<circle cx="645.9" cy="764.1" r="4.75"/>
<circle cx="650.2" cy="761.5" r="4.75"/>
<circle cx="657.2" cy="756.7" r="4.75"/>
<circle cx="668.9" cy="751.1" r="4.75"/>
<circle cx="675.4" cy="757.6" r="4.75"/>
<circle cx="668.0" cy="764.6" r="4.75"/>
<circle cx="675.4" cy="766.3" r="4.75"/>
<circle cx="685.4" cy="761.1" r="4.75"/>
<circle cx="688.0" cy="762.8" r="4.75"/>
<circle cx="670.2" cy="775.4" r="4.75"/>
<circle cx="647.9" cy="779.8" r="4.75"/>
<circle cx="645.4" cy="788.9" r="4.75"/>
<circle cx="662.8" cy="784.6" r="4.75"/>
<circle cx="687.6" cy="787.2" r="4.75"/>
<circle cx="674.8" cy="798.9" r="4.75"/>
<circle cx="665.9" cy="732.4" r="4.75"/>
<circle cx="675.0" cy="758.5" r="4.75"/>
<circle cx="686.3" cy="761.5" r="4.75"/>
<circle cx="623.7" cy="777.6" r="4.75"/>
<circle cx="582.0" cy="786.3" r="4.75"/>
<circle cx="589.8" cy="786.7" r="4.75"/>
<circle cx="584.6" cy="790.7" r="4.75"/>
<circle cx="588.0" cy="792.0" r="4.75"/>
<circle cx="583.7" cy="795.4" r="4.75"/>
<circle cx="595.4" cy="794.1" r="4.75"/>
<circle cx="614.4" cy="805.9" r="4.75"/>
<circle cx="625.0" cy="802.8" r="4.75"/>
<circle cx="629.8" cy="795.9" r="4.75"/>
<circle cx="634.6" cy="792.4" r="4.75"/>
<circle cx="634.6" cy="800.7" r="4.75"/>
<circle cx="727.2" cy="792.9" r="4.75"/>
<circle cx="739.7" cy="799.7" r="4.75"/>
<circle cx="750.0" cy="781.2" r="4.75"/>
<circle cx="761.1" cy="774.6" r="4.75"/>
<circle cx="770.5" cy="783.7" r="4.75"/>
<circle cx="811.7" cy="768.4" r="4.75"/>
<circle cx="833.8" cy="764.4" r="4.75"/>
<circle cx="821.2" cy="754.7" r="4.75"/>
<circle cx="805.3" cy="750.8" r="4.75"/>
<circle cx="816.2" cy="742.4" r="4.75"/>
<circle cx="825.1" cy="734.4" r="4.75"/>
<circle cx="781.6" cy="760.3" r="4.75"/>
<circle cx="771.0" cy="753.6" r="4.75"/>
<circle cx="771.2" cy="754.5" r="4.75"/>
<circle cx="767.6" cy="743.8" r="4.75"/>
<circle cx="757.0" cy="739.4" r="4.75"/>
<circle cx="754.0" cy="756.9" r="4.75"/>
<circle cx="743.6" cy="754.7" r="4.75"/>
<circle cx="740.8" cy="754.7" r="4.75"/>
<circle cx="743.4" cy="766.4" r="4.75"/>
<circle cx="731.5" cy="769.2" r="4.75"/>
<circle cx="726.0" cy="759.2" r="4.75"/>
<circle cx="726.8" cy="760.9" r="4.75"/>
<circle cx="726.3" cy="750.8" r="4.75"/>
<circle cx="719.6" cy="753.4" r="4.75"/>
<circle cx="719.9" cy="743.3" r="4.75"/>
<circle cx="719.0" cy="744.1" r="4.75"/>
<circle cx="705.6" cy="756.7" r="4.75"/>
<circle cx="695.6" cy="763.6" r="4.75"/>
<circle cx="695.6" cy="767.0" r="4.75"/>
<circle cx="696.9" cy="746.0" r="4.75"/>
<circle cx="695.6" cy="739.3" r="4.75"/>
<circle cx="705.6" cy="707.8" r="4.75"/>
<circle cx="707.9" cy="712.3" r="4.75"/>
<circle cx="715.1" cy="712.3" r="4.75"/>
<circle cx="710.7" cy="719.0" r="4.75"/>
<circle cx="716.2" cy="719.0" r="4.75"/>
<circle cx="704.3" cy="723.4" r="4.75"/>
<circle cx="691.7" cy="710.6" r="4.75"/>
<circle cx="691.7" cy="716.7" r="4.75"/>
<circle cx="715.7" cy="731.8" r="4.75"/>
<circle cx="714.0" cy="734.6" r="4.75"/>
<circle cx="722.9" cy="731.8" r="4.75"/>
<circle cx="740.8" cy="705.0" r="4.75"/>
<circle cx="736.3" cy="710.6" r="4.75"/>
<circle cx="734.7" cy="714.0" r="4.75"/>
<circle cx="742.5" cy="716.7" r="4.75"/>
<circle cx="736.9" cy="720.1" r="4.75"/>
<circle cx="745.8" cy="723.4" r="4.75"/>
<circle cx="736.9" cy="728.5" r="4.75"/>
<circle cx="738.0" cy="730.7" r="4.75"/>
<circle cx="743.6" cy="735.7" r="4.75"/>
<circle cx="754.8" cy="711.2" r="4.75"/>
<circle cx="754.8" cy="714.0" r="4.75"/>
<circle cx="754.2" cy="719.0" r="4.75"/>
<circle cx="757.6" cy="725.7" r="4.75"/>
<circle cx="771.5" cy="706.7" r="4.75"/>
<circle cx="769.8" cy="703.3" r="4.75"/>
<circle cx="774.3" cy="725.1" r="4.75"/>
<circle cx="779.3" cy="729.0" r="4.75"/>
<circle cx="773.2" cy="735.7" r="4.75"/>
<circle cx="784.9" cy="733.5" r="4.75"/>
<circle cx="788.8" cy="734.4" r="4.75"/>
<circle cx="800.5" cy="710.0" r="4.75"/>
<circle cx="806.1" cy="707.3" r="4.75"/>
<circle cx="800.0" cy="715.6" r="4.75"/>
<circle cx="811.7" cy="714.0" r="4.75"/>
<circle cx="808.9" cy="724.6" r="4.75"/>
<circle cx="802.2" cy="728.5" r="4.75"/>
<circle cx="825.7" cy="705.0" r="4.75"/>
<circle cx="837.4" cy="707.8" r="4.75"/>
<circle cx="834.0" cy="721.8" r="4.75"/>
<circle cx="835.2" cy="723.4" r="4.75"/>
<circle cx="837.4" cy="725.7" r="4.75"/>
<circle cx="845.8" cy="719.9" r="4.75"/>
<circle cx="853.0" cy="718.4" r="4.75"/>
<circle cx="855.8" cy="725.7" r="4.75"/>
<circle cx="855.0" cy="729.6" r="4.75"/>
<circle cx="865.9" cy="714.0" r="4.75"/>
<circle cx="867.5" cy="716.7" r="4.75"/>
<circle cx="200.8" cy="888.8" r="4.75"/>
<circle cx="249.2" cy="875.6" r="4.75"/>
<circle cx="1532.2" cy="416.0" r="4.75"/>
<circle cx="1532.0" cy="465.8" r="4.75"/>
<circle cx="939.8" cy="751.7" r="4.75"/>
<circle cx="981.4" cy="737.2" r="4.75"/>
<circle cx="961.6" cy="724.6" r="4.75"/>
<circle cx="959.3" cy="711.2" r="4.75"/>
<circle cx="960.4" cy="714.0" r="4.75"/>
<circle cx="965.7" cy="702.8" r="4.75"/>
<circle cx="937.0" cy="710.0" r="4.75"/>
<circle cx="932.5" cy="714.3" r="4.75"/>
<circle cx="916.0" cy="713.6" r="4.75"/>
<circle cx="908.2" cy="705.4" r="4.75"/>
<circle cx="899.3" cy="717.9" r="4.75"/>
<circle cx="882.1" cy="722.0" r="4.75"/>
<circle cx="884.0" cy="707.3" r="4.75"/>
<circle cx="894.0" cy="708.9" r="4.75"/>
<circle cx="892.3" cy="712.1" r="4.75"/>
<circle cx="872.8" cy="702.8" r="4.75"/>
<circle cx="614.6" cy="689.4" r="4.75"/>
<circle cx="650.9" cy="692.8" r="4.75"/>
<circle cx="629.0" cy="708.8" r="4.75"/>
<circle cx="677.5" cy="699.8" r="4.75"/>
<circle cx="683.6" cy="704.2" r="4.75"/>
<circle cx="652.4" cy="710.4" r="4.75"/>
<circle cx="649.0" cy="713.7" r="4.75"/>
<circle cx="663.0" cy="712.6" r="4.75"/>
<circle cx="677.5" cy="709.8" r="4.75"/>
<circle cx="685.3" cy="710.4" r="4.75"/>
<circle cx="679.6" cy="717.8" r="4.75"/>
<circle cx="681.8" cy="722.2" r="4.75"/>
<circle cx="685.8" cy="718.5" r="4.75"/>
<circle cx="684.0" cy="713.8" r="4.75"/>
<circle cx="698.0" cy="643.8" r="4.75"/>
<circle cx="713.2" cy="644.9" r="4.75"/>
<circle cx="745.6" cy="631.4" r="4.75"/>
<circle cx="723.5" cy="658.5" r="4.75"/>
<circle cx="742.8" cy="659.4" r="4.75"/>
<circle cx="759.5" cy="658.5" r="4.75"/>
<circle cx="700.8" cy="670.3" r="4.75"/>
<circle cx="773.7" cy="652.7" r="4.75"/>
<circle cx="804.5" cy="652.9" r="4.75"/>
<circle cx="806.4" cy="613.6" r="4.75"/>
<circle cx="809.5" cy="619.4" r="4.75"/>
<circle cx="811.7" cy="621.7" r="4.75"/>
<circle cx="814.5" cy="629.8" r="4.75"/>
<circle cx="833.5" cy="613.8" r="4.75"/>
<circle cx="869.8" cy="621.7" r="4.75"/>
<circle cx="776.0" cy="663.5" r="4.75"/>
<circle cx="784.4" cy="663.5" r="4.75"/>
<circle cx="794.4" cy="660.7" r="4.75"/>
<circle cx="801.7" cy="671.9" r="4.75"/>
<circle cx="789.4" cy="674.7" r="4.75"/>
<circle cx="793.8" cy="677.5" r="4.75"/>
<circle cx="828.5" cy="636.7" r="4.75"/>
<circle cx="834.6" cy="642.3" r="4.75"/>
<circle cx="841.3" cy="636.7" r="4.75"/>
<circle cx="822.3" cy="647.1" r="4.75"/>
<circle cx="830.1" cy="650.1" r="4.75"/>
<circle cx="851.9" cy="634.5" r="4.75"/>
<circle cx="855.3" cy="628.4" r="4.75"/>
<circle cx="853.6" cy="647.3" r="4.75"/>
<circle cx="862.0" cy="641.8" r="4.75"/>
<circle cx="867.5" cy="641.2" r="4.75"/>
<circle cx="860.8" cy="654.6" r="4.75"/>
<circle cx="854.1" cy="656.3" r="4.75"/>
<circle cx="842.4" cy="659.1" r="4.75"/>
<circle cx="844.1" cy="660.2" r="4.75"/>
<circle cx="822.3" cy="663.5" r="4.75"/>
<circle cx="825.7" cy="664.1" r="4.75"/>
<circle cx="836.3" cy="669.7" r="4.75"/>
<circle cx="853.0" cy="669.1" r="4.75"/>
<circle cx="842.4" cy="676.9" r="4.75"/>
<circle cx="831.3" cy="676.9" r="4.75"/>
<circle cx="822.9" cy="678.6" r="4.75"/>
<circle cx="717.7" cy="684.0" r="4.75"/>
<circle cx="714.8" cy="694.0" r="4.75"/>
<circle cx="732.4" cy="683.1" r="4.75"/>
<circle cx="734.7" cy="687.0" r="4.75"/>
<circle cx="739.1" cy="692.0" r="4.75"/>
<circle cx="733.0" cy="695.9" r="4.75"/>
<circle cx="753.6" cy="692.6" r="4.75"/>
<circle cx="749.2" cy="697.6" r="4.75"/>
<circle cx="757.0" cy="697.0" r="4.75"/>
<circle cx="761.5" cy="699.3" r="4.75"/>
<circle cx="773.2" cy="699.3" r="4.75"/>
<circle cx="767.0" cy="679.2" r="4.75"/>
<circle cx="769.3" cy="679.7" r="4.75"/>
<circle cx="775.4" cy="675.8" r="4.75"/>
<circle cx="779.3" cy="677.5" r="4.75"/>
<circle cx="780.4" cy="681.4" r="4.75"/>
<circle cx="778.2" cy="684.2" r="4.75"/>
<circle cx="774.3" cy="687.0" r="4.75"/>
<circle cx="784.4" cy="687.5" r="4.75"/>
<circle cx="798.9" cy="686.4" r="4.75"/>
<circle cx="800.5" cy="689.8" r="4.75"/>
<circle cx="801.7" cy="693.1" r="4.75"/>
<circle cx="807.2" cy="695.4" r="4.75"/>
<circle cx="796.1" cy="696.5" r="4.75"/>
<circle cx="789.4" cy="699.3" r="4.75"/>
<circle cx="820.1" cy="684.8" r="4.75"/>
<circle cx="819.5" cy="690.9" r="4.75"/>
<circle cx="832.9" cy="689.2" r="4.75"/>
<circle cx="834.6" cy="695.4" r="4.75"/>
<circle cx="828.5" cy="685.9" r="4.75"/>
<circle cx="853.6" cy="678.6" r="4.75"/>
<circle cx="853.0" cy="683.1" r="4.75"/>
<circle cx="852.5" cy="689.8" r="4.75"/>
<circle cx="856.4" cy="693.1" r="4.75"/>
<circle cx="864.2" cy="670.8" r="4.75"/>
<circle cx="866.4" cy="675.3" r="4.75"/>
<circle cx="863.6" cy="679.2" r="4.75"/>
<circle cx="864.2" cy="682.0" r="4.75"/>
<circle cx="867.5" cy="694.2" r="4.75"/>
<circle cx="876.1" cy="586.8" r="4.75"/>
<circle cx="904.8" cy="587.8" r="4.75"/>
<circle cx="906.3" cy="601.0" r="4.75"/>
<circle cx="893.2" cy="604.4" r="4.75"/>
<circle cx="967.1" cy="586.2" r="4.75"/>
<circle cx="970.5" cy="585.9" r="4.75"/>
<circle cx="966.0" cy="598.8" r="4.75"/>
<circle cx="961.6" cy="604.9" r="4.75"/>
<circle cx="981.7" cy="595.4" r="4.75"/>
<circle cx="993.9" cy="590.4" r="4.75"/>
<circle cx="978.9" cy="609.4" r="4.75"/>
<circle cx="980.5" cy="619.4" r="4.75"/>
<circle cx="1016.8" cy="583.1" r="4.75"/>
<circle cx="1015.2" cy="588.7" r="4.75"/>
<circle cx="1034.1" cy="577.0" r="4.75"/>
<circle cx="1034.1" cy="591.5" r="4.75"/>
<circle cx="1002.9" cy="604.4" r="4.75"/>
<circle cx="1010.7" cy="606.6" r="4.75"/>
<circle cx="1019.6" cy="604.9" r="4.75"/>
<circle cx="1016.3" cy="609.4" r="4.75"/>
<circle cx="1020.7" cy="609.4" r="4.75"/>
<circle cx="1026.3" cy="608.8" r="4.75"/>
<circle cx="1031.9" cy="602.7" r="4.75"/>
<circle cx="1033.0" cy="601.0" r="4.75"/>
<circle cx="1034.1" cy="606.0" r="4.75"/>
<circle cx="1044.2" cy="603.2" r="4.75"/>
<circle cx="1047.5" cy="603.2" r="4.75"/>
<circle cx="1030.8" cy="616.1" r="4.75"/>
<circle cx="1038.1" cy="623.9" r="4.75"/>
<circle cx="1049.8" cy="616.1" r="4.75"/>
<circle cx="1048.7" cy="620.5" r="4.75"/>
<circle cx="1016.8" cy="620.0" r="4.75"/>
<circle cx="1007.9" cy="619.4" r="4.75"/>
<circle cx="930.9" cy="606.3" r="4.75"/>
<circle cx="942.6" cy="612.7" r="4.75"/>
<circle cx="954.0" cy="613.0" r="4.75"/>
<circle cx="927.5" cy="616.6" r="4.75"/>
<circle cx="921.9" cy="621.1" r="4.75"/>
<circle cx="916.9" cy="626.1" r="4.75"/>
<circle cx="887.9" cy="614.4" r="4.75"/>
<circle cx="879.5" cy="619.4" r="4.75"/>
<circle cx="873.3" cy="621.7" r="4.75"/>
<circle cx="885.1" cy="627.2" r="4.75"/>
<circle cx="897.4" cy="622.2" r="4.75"/>
<circle cx="899.0" cy="625.0" r="4.75"/>
<circle cx="908.5" cy="625.6" r="4.75"/>
<circle cx="931.2" cy="628.6" r="4.75"/>
<circle cx="945.0" cy="623.9" r="4.75"/>
<circle cx="943.1" cy="629.5" r="4.75"/>
<circle cx="961.3" cy="622.2" r="4.75"/>
<circle cx="958.2" cy="627.8" r="4.75"/>
<circle cx="947.0" cy="639.0" r="4.75"/>
<circle cx="962.1" cy="639.0" r="4.75"/>
<circle cx="999.0" cy="623.3" r="4.75"/>
<circle cx="994.5" cy="626.7" r="4.75"/>
<circle cx="988.4" cy="633.4" r="4.75"/>
<circle cx="992.8" cy="637.3" r="4.75"/>
<circle cx="975.9" cy="637.9" r="4.75"/>
<circle cx="1018.5" cy="628.9" r="4.75"/>
<circle cx="1011.6" cy="634.5" r="4.75"/>
<circle cx="1027.7" cy="635.1" r="4.75"/>
<circle cx="1043.1" cy="642.3" r="4.75"/>
<circle cx="874.5" cy="637.9" r="4.75"/>
<circle cx="879.5" cy="639.5" r="4.75"/>
<circle cx="885.1" cy="639.0" r="4.75"/>
<circle cx="900.1" cy="634.5" r="4.75"/>
<circle cx="905.7" cy="632.8" r="4.75"/>
<circle cx="908.0" cy="638.4" r="4.75"/>
<circle cx="909.1" cy="636.2" r="4.75"/>
<circle cx="925.6" cy="638.4" r="4.75"/>
<circle cx="932.8" cy="641.8" r="4.75"/>
<circle cx="873.3" cy="648.5" r="4.75"/>
<circle cx="884.3" cy="650.1" r="4.75"/>
<circle cx="897.4" cy="647.9" r="4.75"/>
<circle cx="899.6" cy="648.5" r="4.75"/>
<circle cx="909.6" cy="646.2" r="4.75"/>
<circle cx="920.8" cy="652.9" r="4.75"/>
<circle cx="921.4" cy="654.6" r="4.75"/>
<circle cx="905.7" cy="655.2" r="4.75"/>
<circle cx="904.6" cy="659.6" r="4.75"/>
<circle cx="906.8" cy="661.9" r="4.75"/>
<circle cx="909.1" cy="666.3" r="4.75"/>
<circle cx="914.7" cy="659.6" r="4.75"/>
<circle cx="903.5" cy="672.5" r="4.75"/>
<circle cx="940.3" cy="653.5" r="4.75"/>
<circle cx="948.2" cy="658.5" r="4.75"/>
<circle cx="953.2" cy="659.6" r="4.75"/>
<circle cx="962.7" cy="656.8" r="4.75"/>
<circle cx="969.9" cy="650.1" r="4.75"/>
<circle cx="968.8" cy="664.1" r="4.75"/>
<circle cx="961.6" cy="668.0" r="4.75"/>
<circle cx="956.0" cy="672.5" r="4.75"/>
<circle cx="941.5" cy="668.6" r="4.75"/>
<circle cx="926.9" cy="662.4" r="4.75"/>
<circle cx="930.9" cy="661.9" r="4.75"/>
<circle cx="981.7" cy="644.0" r="4.75"/>
<circle cx="986.1" cy="645.1" r="4.75"/>
<circle cx="991.7" cy="646.2" r="4.75"/>
<circle cx="992.8" cy="642.9" r="4.75"/>
<circle cx="996.2" cy="644.0" r="4.75"/>
<circle cx="1001.8" cy="644.0" r="4.75"/>
<circle cx="980.5" cy="656.3" r="4.75"/>
<circle cx="981.7" cy="658.5" r="4.75"/>
<circle cx="1005.7" cy="652.9" r="4.75"/>
<circle cx="1013.5" cy="655.2" r="4.75"/>
<circle cx="1006.2" cy="661.9" r="4.75"/>
<circle cx="1020.2" cy="663.0" r="4.75"/>
<circle cx="1025.2" cy="671.4" r="4.75"/>
<circle cx="1020.7" cy="646.2" r="4.75"/>
<circle cx="1029.7" cy="645.7" r="4.75"/>
<circle cx="1026.9" cy="650.7" r="4.75"/>
<circle cx="874.5" cy="675.3" r="4.75"/>
<circle cx="882.8" cy="682.0" r="4.75"/>
<circle cx="887.9" cy="682.5" r="4.75"/>
<circle cx="890.7" cy="680.8" r="4.75"/>
<circle cx="920.2" cy="670.2" r="4.75"/>
<circle cx="927.5" cy="674.7" r="4.75"/>
<circle cx="920.2" cy="679.2" r="4.75"/>
<circle cx="928.6" cy="676.4" r="4.75"/>
<circle cx="935.9" cy="681.4" r="4.75"/>
<circle cx="935.3" cy="682.5" r="4.75"/>
<circle cx="924.2" cy="688.7" r="4.75"/>
<circle cx="937.0" cy="689.8" r="4.75"/>
<circle cx="928.6" cy="696.5" r="4.75"/>
<circle cx="937.6" cy="698.2" r="4.75"/>
<circle cx="901.3" cy="693.1" r="4.75"/>
<circle cx="884.0" cy="692.0" r="4.75"/>
<circle cx="875.0" cy="693.1" r="4.75"/>
<circle cx="876.7" cy="695.4" r="4.75"/>
<circle cx="891.2" cy="698.2" r="4.75"/>
<circle cx="961.8" cy="690.0" r="4.75"/>
<circle cx="994.8" cy="691.1" r="4.75"/>
<circle cx="1019.1" cy="685.3" r="4.75"/>
<circle cx="1127.3" cy="686.7" r="4.75"/>
<circle cx="1067.5" cy="669.9" r="4.75"/>
<circle cx="1055.6" cy="662.1" r="4.75"/>
<circle cx="1062.8" cy="637.3" r="4.75"/>
<circle cx="1060.6" cy="646.8" r="4.75"/>
<circle cx="1065.1" cy="647.9" r="4.75"/>
<circle cx="1086.3" cy="644.6" r="4.75"/>
<circle cx="1085.7" cy="647.9" r="4.75"/>
<circle cx="1125.0" cy="635.3" r="4.75"/>
<circle cx="1132.6" cy="635.8" r="4.75"/>
<circle cx="1141.6" cy="631.2" r="4.75"/>
<circle cx="1176.7" cy="630.8" r="4.75"/>
<circle cx="1164.8" cy="606.3" r="4.75"/>
<circle cx="1181.3" cy="604.7" r="4.75"/>
<circle cx="1199.1" cy="594.9" r="4.75"/>
<circle cx="1225.5" cy="583.1" r="4.75"/>
<circle cx="1201.9" cy="578.1" r="4.75"/>
<circle cx="1167.0" cy="581.2" r="4.75"/>
<circle cx="1157.8" cy="585.7" r="4.75"/>
<circle cx="1115.3" cy="578.1" r="4.75"/>
<circle cx="1089.1" cy="583.9" r="4.75"/>
<circle cx="1089.1" cy="593.5" r="4.75"/>
<circle cx="1079.9" cy="592.6" r="4.75"/>
<circle cx="1083.5" cy="597.1" r="4.75"/>
<circle cx="1071.4" cy="597.7" r="4.75"/>
<circle cx="1058.9" cy="605.1" r="4.75"/>
<circle cx="1069.0" cy="606.0" r="4.75"/>
<circle cx="1071.2" cy="607.1" r="4.75"/>
<circle cx="1078.5" cy="604.9" r="4.75"/>
<circle cx="1084.1" cy="613.6" r="4.75"/>
<circle cx="1071.8" cy="614.4" r="4.75"/>
<circle cx="1071.2" cy="616.6" r="4.75"/>
<circle cx="1059.5" cy="617.2" r="4.75"/>
<circle cx="1097.5" cy="603.2" r="4.75"/>
<circle cx="1099.1" cy="599.3" r="4.75"/>
<circle cx="1100.8" cy="601.0" r="4.75"/>
<circle cx="1114.8" cy="594.9" r="4.75"/>
<circle cx="1117.0" cy="602.7" r="4.75"/>
<circle cx="1107.5" cy="607.7" r="4.75"/>
<circle cx="1110.3" cy="611.6" r="4.75"/>
<circle cx="1110.9" cy="613.3" r="4.75"/>
<circle cx="1110.3" cy="615.5" r="4.75"/>
<circle cx="1121.5" cy="612.2" r="4.75"/>
<circle cx="1129.1" cy="617.2" r="4.75"/>
<circle cx="1136.5" cy="620.5" r="4.75"/>
<circle cx="1128.2" cy="591.5" r="4.75"/>
<circle cx="1138.2" cy="589.3" r="4.75"/>
<circle cx="1143.8" cy="591.0" r="4.75"/>
<circle cx="1145.5" cy="592.1" r="4.75"/>
<circle cx="1144.9" cy="593.7" r="4.75"/>
<circle cx="934.8" cy="558.4" r="4.75"/>
<circle cx="981.7" cy="556.7" r="4.75"/>
<circle cx="999.2" cy="567.7" r="4.75"/>
<circle cx="1003.4" cy="571.8" r="4.75"/>
<circle cx="1019.9" cy="536.3" r="4.75"/>
<circle cx="1029.1" cy="533.1" r="4.75"/>
<circle cx="1038.4" cy="527.1" r="4.75"/>
<circle cx="1033.6" cy="557.6" r="4.75"/>
<circle cx="1025.2" cy="567.0" r="4.75"/>
<circle cx="1123.1" cy="497.9" r="4.75"/>
<circle cx="1192.4" cy="501.2" r="4.75"/>
<circle cx="1187.6" cy="509.8" r="4.75"/>
<circle cx="1225.0" cy="516.5" r="4.75"/>
<circle cx="1115.1" cy="527.1" r="4.75"/>
<circle cx="1136.0" cy="529.7" r="4.75"/>
<circle cx="1145.5" cy="527.1" r="4.75"/>
<circle cx="1182.7" cy="526.9" r="4.75"/>
<circle cx="1199.6" cy="530.8" r="4.75"/>
<circle cx="1219.2" cy="529.9" r="4.75"/>
<circle cx="1213.6" cy="533.8" r="4.75"/>
<circle cx="1210.8" cy="537.7" r="4.75"/>
<circle cx="1212.5" cy="535.0" r="4.75"/>
<circle cx="1158.3" cy="537.5" r="4.75"/>
<circle cx="1166.7" cy="538.9" r="4.75"/>
<circle cx="1165.0" cy="546.1" r="4.75"/>
<circle cx="1176.4" cy="542.8" r="4.75"/>
<circle cx="1189.0" cy="540.5" r="4.75"/>
<circle cx="1198.5" cy="543.6" r="4.75"/>
<circle cx="1201.6" cy="555.4" r="4.75"/>
<circle cx="1216.0" cy="552.0" r="4.75"/>
<circle cx="1086.3" cy="543.3" r="4.75"/>
<circle cx="1061.4" cy="549.5" r="4.75"/>
<circle cx="1053.9" cy="557.8" r="4.75"/>
<circle cx="1066.7" cy="562.5" r="4.75"/>
<circle cx="1077.4" cy="562.3" r="4.75"/>
<circle cx="1075.9" cy="565.7" r="4.75"/>
<circle cx="1090.2" cy="558.4" r="4.75"/>
<circle cx="1095.8" cy="554.5" r="4.75"/>
<circle cx="1096.9" cy="557.3" r="4.75"/>
<circle cx="1107.3" cy="565.1" r="4.75"/>
<circle cx="1119.8" cy="562.3" r="4.75"/>
<circle cx="1120.9" cy="569.0" r="4.75"/>
<circle cx="1132.4" cy="563.7" r="4.75"/>
<circle cx="1130.4" cy="544.4" r="4.75"/>
<circle cx="1132.1" cy="545.6" r="4.75"/>
<circle cx="1137.1" cy="545.0" r="4.75"/>
<circle cx="1128.7" cy="548.4" r="4.75"/>
<circle cx="1148.0" cy="558.1" r="4.75"/>
<circle cx="1149.4" cy="568.8" r="4.75"/>
<circle cx="1152.2" cy="567.9" r="4.75"/>
<circle cx="1244.3" cy="468.5" r="4.75"/>
<circle cx="1247.1" cy="515.7" r="4.75"/>
<circle cx="1293.3" cy="527.1" r="4.75"/>
<circle cx="1286.7" cy="547.2" r="4.75"/>
<circle cx="1277.1" cy="563.1" r="4.75"/>
<circle cx="1252.9" cy="552.3" r="4.75"/>
<circle cx="1239.5" cy="553.0" r="4.75"/>
<circle cx="1331.4" cy="500.7" r="4.75"/>
<circle cx="1360.9" cy="496.7" r="4.75"/>
<circle cx="1391.9" cy="482.1" r="4.75"/>
<circle cx="1386.9" cy="507.9" r="4.75"/>
<circle cx="1384.1" cy="510.4" r="4.75"/>
<circle cx="1245.9" cy="584.7" r="4.75"/>
<circle cx="1238.9" cy="593.0" r="4.75"/>
<circle cx="1284.2" cy="588.0" r="4.75"/>
<circle cx="1278.6" cy="618.4" r="4.75"/>
<circle cx="1371.9" cy="592.2" r="4.75"/>
<circle cx="1462.3" cy="551.9" r="4.75"/>
<circle cx="1342.0" cy="438.6" r="4.75"/>
<circle cx="1434.6" cy="474.3" r="4.75"/>
<circle cx="1446.5" cy="473.7" r="4.75"/>
<circle cx="1456.3" cy="457.5" r="4.75"/>
<circle cx="579.9" cy="821.2" r="4.75"/>
<circle cx="612.6" cy="832.0" r="4.75"/>
<circle cx="674.9" cy="852.3" r="4.75"/>
</g>
<text x="178.0" y="423.5" font-size="26.4" text-anchor="end" font-weight="bold" fill="#000">995.537</text>
<text x="178.0" y="907.5" font-size="26.4" text-anchor="end" font-weight="bold" fill="#000">736.217</text>
<text x="178.0" y="508.9" font-size="26.4" text-anchor="end" fill="#000">950</text>
<text x="178.0" y="602.1" font-size="26.4" text-anchor="end" fill="#000">900</text>
<text x="178.0" y="695.3" font-size="26.4" text-anchor="end" fill="#000">850</text>
<text x="178.0" y="788.5" font-size="26.4" text-anchor="end" fill="#000">800</text>
<text x="178.0" y="881.7" font-size="26.4" text-anchor="end" fill="#000">750</text>
<text x="428.6" y="941.0" font-size="26.4" text-anchor="middle" fill="#000">36000</text>
<text x="645.3" y="941.0" font-size="26.4" text-anchor="middle" fill="#000">38000</text>
<text x="862.0" y="941.0" font-size="26.4" text-anchor="middle" fill="#000">40000</text>
<text x="1078.7" y="941.0" font-size="26.4" text-anchor="middle" fill="#000">42000</text>
<text x="1295.4" y="941.0" font-size="26.4" text-anchor="middle" fill="#000">44000</text>
<text x="201.0" y="941.0" font-size="26.4" text-anchor="middle" font-weight="bold" fill="#000">33898.978</text>
<text x="1524.0" y="941.0" font-size="26.4" text-anchor="middle" font-weight="bold" fill="#000">46185.35</text>
<circle cx="1212" cy="383" r="12.5" fill="#3b78b1" stroke="#3b78b1" stroke-width="1"/>
<text x="1230.5" y="391" font-size="26.4" fill="#000">(filesize_d, respons...</text>
</svg></body></html>
